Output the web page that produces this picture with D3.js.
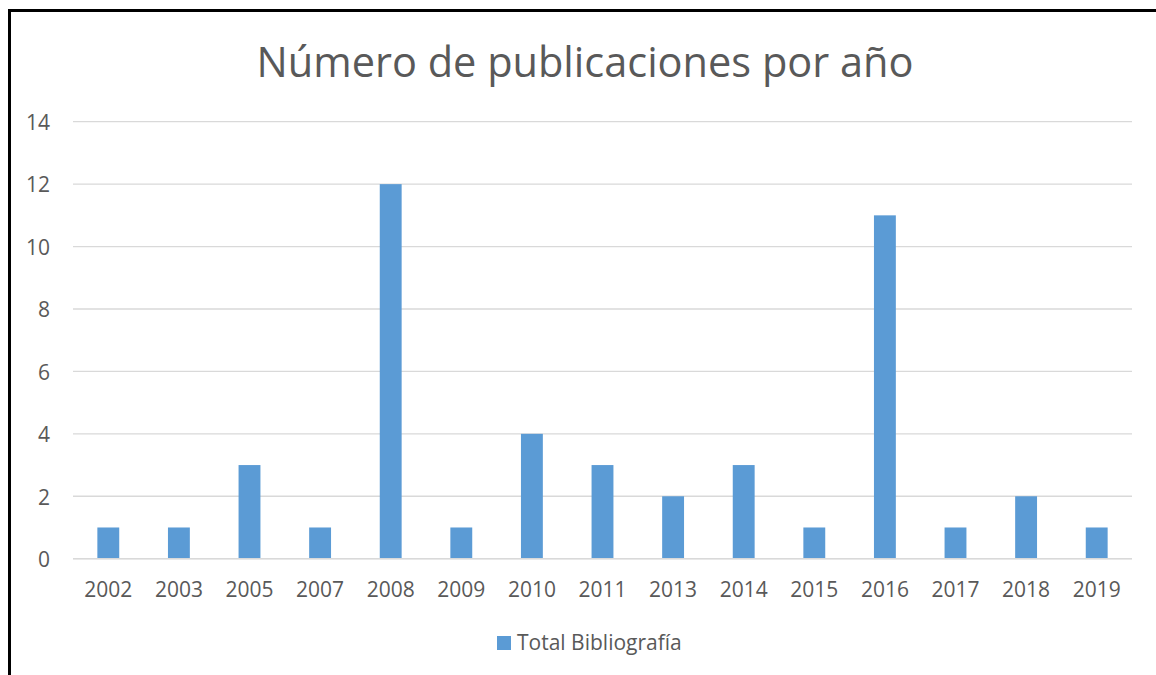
<!DOCTYPE html>
<html>
<head>
<meta charset="utf-8">
<script src="https://cdn.jsdelivr.net/npm/d3@7"></script>
<style>
  html, body { margin: 0; padding: 0; background: #fff; }
  svg { display: block; }
</style>
</head>
<body>
<svg id="chart" width="1156" height="675"></svg>
<script>
// Publications per year
const years = ["2002", "2003", "2005", "2007", "2008", "2009", "2010", "2011", "2013", "2014", "2015", "2016", "2017", "2018", "2019"];
const totals = [1, 1, 3, 1, 12, 1, 4, 3, 2, 3, 1, 11, 1, 2, 1];
const yTicks = [0, 2, 4, 6, 8, 10, 12, 14];
const titleText = "Número de publicaciones por año";
const seriesName = "Total Bibliografía";

const svg = d3.select("#chart");
const W = 1156, H = 675;
const margin = { left: 73, right: 1132, top: 121.7, bottom: 558.7 };
const textColor = "#595959";
const barColor = "#5b9bd5";
const gridColor = "#d9d9d9";
const font = "'Open Sans', sans-serif";

svg.append("rect").attr("width", W).attr("height", H).attr("fill", "#fff");

// frame (top and left edges)
svg.append("path")
  .attr("d", `M9.5,${H} L9.5,10.5 L${W},10.5`)
  .attr("fill", "none").attr("stroke", "#000").attr("stroke-width", 3);

const x = d3.scaleBand().domain(years).range([margin.left, margin.right]).paddingInner(0.69).paddingOuter(0.345);
const y = d3.scaleLinear().domain([0, 14]).range([margin.bottom, margin.top]);

// gridlines
svg.append("g").selectAll("line").data(yTicks).join("line")
  .attr("x1", margin.left).attr("x2", margin.right)
  .attr("y1", d => y(d)).attr("y2", d => y(d))
  .attr("stroke", gridColor).attr("stroke-width", 1.3);

// y axis labels
const yAxis = d3.axisLeft(y).tickValues(yTicks).tickSize(0).tickPadding(0);
const gy = svg.append("g").attr("transform", `translate(50,1)`).call(yAxis);
gy.select(".domain").remove();
gy.selectAll("text").attr("font-family", font).attr("font-size", 21).attr("fill", textColor);

// bars
svg.append("g").selectAll("rect").data(years).join("rect")
  .attr("x", d => x(d))
  .attr("width", x.bandwidth())
  .attr("y", (d, i) => y(totals[i]))
  .attr("height", (d, i) => y(0) - y(totals[i]))
  .attr("fill", barColor);

// baseline
svg.append("line")
  .attr("x1", margin.left).attr("x2", margin.right)
  .attr("y1", y(0)).attr("y2", y(0))
  .attr("stroke", gridColor).attr("stroke-width", 1.5);

// x axis labels
const xAxis = d3.axisBottom(x).tickSize(0).tickPadding(0);
const gx = svg.append("g").attr("transform", `translate(0,582)`).call(xAxis);
gx.select(".domain").remove();
gx.selectAll("text").attr("font-family", font).attr("font-size", 21).attr("fill", textColor);

// title
svg.append("text")
  .attr("x", 585).attr("y", 77)
  .attr("text-anchor", "middle")
  .attr("font-family", font).attr("font-size", 41.5).attr("font-weight", 400)
  .attr("fill", textColor)
  .text(titleText);

// legend
const lg = svg.append("g").attr("transform", "translate(497,636)");
lg.append("rect").attr("width", 14).attr("height", 14).attr("fill", barColor);
lg.append("text").attr("x", 20).attr("y", 14)
  .attr("font-family", font).attr("font-size", 21).attr("fill", textColor)
  .text(seriesName);
</script>
</body>
</html>
